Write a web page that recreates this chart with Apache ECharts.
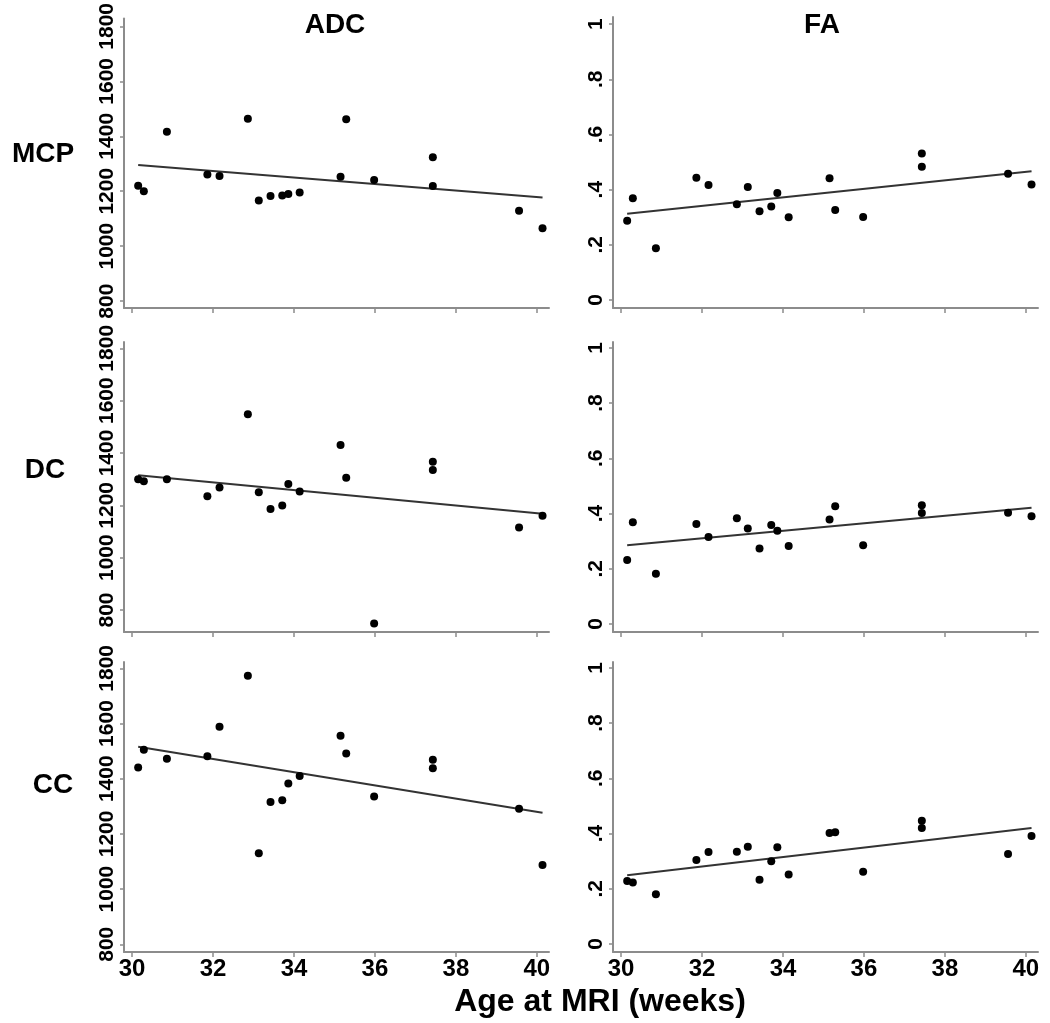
<!DOCTYPE html>
<html>
<head>
<meta charset="utf-8">
<script src="https://cdn.jsdelivr.net/npm/echarts@6/dist/echarts.min.js"></script>
<style>
html,body{margin:0;padding:0;background:#fff;}
#chart{width:1050px;height:1023px;}
</style>
</head>
<body>
<div id="chart"></div>
<script>
// ---- data ----
const ages = [30.15, 30.29, 30.86, 31.86, 32.16, 32.86, 33.13, 33.42, 33.71, 33.86, 34.14, 35.15, 35.29, 35.98, 37.43, 37.43, 39.56, 40.14];
const adcMCP = [1220, 1200, 1416, 1261, 1255, 1464, 1166, 1183, 1184, 1190, 1195, 1253, 1462, 1241, 1324, 1219, 1129, 1065];
const faMCP  = [0.287, 0.369, 0.188, 0.443, 0.417, 0.347, 0.410, 0.322, 0.339, 0.388, 0.300, 0.441, 0.326, 0.301, 0.531, 0.483, 0.458, 0.419];
const adcDC  = [1300, 1292, 1300, 1235, 1268, 1548, 1250, 1186, 1199, 1281, 1253, 1430, 1305, 748, 1366, 1335, 1115, 1160];
const faDC   = [0.232, 0.368, 0.182, 0.362, 0.315, 0.383, 0.346, 0.273, 0.358, 0.338, 0.282, 0.378, 0.426, 0.285, 0.430, 0.402, 0.403, 0.390];
const adcCC  = [1441, 1505, 1472, 1481, 1588, 1773, 1130, 1316, 1322, 1383, 1410, 1556, 1491, 1336, 1469, 1438, 1291, 1087];
const faCC   = [0.228, 0.223, 0.180, 0.304, 0.333, 0.334, 0.352, 0.233, 0.300, 0.350, 0.252, 0.402, 0.405, 0.262, 0.446, 0.420, 0.326, 0.391];

// fitted lines (endpoints)
const fitX       = [30.15, 40.14];
const fitAdcMCP  = [1295, 1177];
const fitFaMCP   = [0.313, 0.467];
const fitAdcDC   = [1315, 1168];
const fitFaDC    = [0.285, 0.421];
const fitAdcCC   = [1516, 1277];
const fitFaCC    = [0.249, 0.420];

// ticks
const xTicks = [30, 32, 34, 36, 38, 40];
const adcTicks = [800, 1000, 1200, 1400, 1600, 1800];
const faTicks = [0, 0.2, 0.4, 0.6, 0.8, 1];
const faTickLabels = ['0', '.2', '.4', '.6', '.8', '1'];

const rowNames = ['MCP', 'DC', 'CC'];
const colNames = ['ADC', 'FA'];

// ---- layout ----
const colLeft = [124, 613];
const colWidth = 425;
const rowTop = [17, 342, 662];
const rowHeight = [291, 290, 290];
const adcRanges = [[775, 1829], [716, 1824], [772, 1823]];
const faRanges = [[-0.029, 1.026], [-0.029, 1.021], [-0.029, 1.021]];

const panels = [
  {row: 0, col: 0, y: adcMCP, fit: fitAdcMCP},
  {row: 0, col: 1, y: faMCP, fit: fitFaMCP},
  {row: 1, col: 0, y: adcDC, fit: fitAdcDC},
  {row: 1, col: 1, y: faDC, fit: fitFaDC},
  {row: 2, col: 0, y: adcCC, fit: fitAdcCC},
  {row: 2, col: 1, y: faCC, fit: fitFaCC}
];

const axisGray = '#8c8c8c';
const grids = [], xAxes = [], yAxes = [], series = [];

panels.forEach((p, i) => {
  grids.push({left: colLeft[p.col], top: rowTop[p.row], width: colWidth, height: rowHeight[p.row], containLabel: false});
  xAxes.push({
    type: 'value', gridIndex: i, min: 29.8, max: 40.3,
    axisLine: {show: true, onZero: false, lineStyle: {color: axisGray, width: 2}},
    axisTick: {show: true, length: 5, customValues: xTicks, lineStyle: {color: axisGray, width: 1.5}},
    axisLabel: {show: p.row === 2, customValues: xTicks, margin: 5,
      fontFamily: 'Liberation Sans, Arial, sans-serif', fontWeight: 'bold', fontSize: 24, color: '#000'},
    splitLine: {show: false}
  });
  const isAdc = p.col === 0;
  const rng = isAdc ? adcRanges[p.row] : faRanges[p.row];
  const ticks = isAdc ? adcTicks : faTicks;
  yAxes.push({
    type: 'value', gridIndex: i, min: rng[0], max: rng[1],
    axisLine: {show: true, onZero: false, lineStyle: {color: axisGray, width: 2}},
    axisTick: {show: true, length: 4, customValues: ticks, lineStyle: {color: axisGray, width: 1.5}},
    axisLabel: {show: true, customValues: ticks, rotate: 90, margin: 6,
      fontFamily: 'Liberation Sans Narrow, Liberation Sans, Arial, sans-serif', fontWeight: 'bold', fontSize: 21, color: '#000',
      formatter: isAdc ? (v => String(Math.round(v))) : (v => faTickLabels[faTicks.findIndex(t => Math.abs(t - v) < 1e-6)] || '')},
    splitLine: {show: false}
  });
  series.push({
    type: 'scatter', xAxisIndex: i, yAxisIndex: i,
    data: ages.map((a, k) => [a, p.y[k]]),
    symbol: 'circle', symbolSize: 8,
    itemStyle: {color: '#000', opacity: 1}, z: 3
  });
  series.push({
    type: 'line', xAxisIndex: i, yAxisIndex: i,
    data: fitX.map((x, k) => [x, p.fit[k]]),
    symbol: 'none', lineStyle: {color: '#333', width: 2}, z: 2
  });
});

const textFont = 'Liberation Sans, Arial, sans-serif';
const texts = [
  {x: 335, y: 25, t: colNames[0], size: 28},
  {x: 822, y: 25, t: colNames[1], size: 28},
  {x: 43, y: 154, t: rowNames[0], size: 28},
  {x: 45, y: 470, t: rowNames[1], size: 28},
  {x: 53, y: 785, t: rowNames[2], size: 28},
  {x: 600, y: 1002, t: 'Age at MRI (weeks)', size: 32}
];

const option = {
  animation: false,
  backgroundColor: '#fff',
  grid: grids,
  xAxis: xAxes,
  yAxis: yAxes,
  series: series,
  graphic: texts.map(o => ({
    type: 'text', x: o.x, y: o.y, silent: true,
    style: {text: o.t, fill: '#000', font: 'bold ' + o.size + 'px ' + textFont, align: 'center', verticalAlign: 'middle'}
  }))
};

const chart = echarts.init(document.getElementById('chart'), null, {renderer: 'canvas'});
chart.setOption(option);
</script>
</body>
</html>
